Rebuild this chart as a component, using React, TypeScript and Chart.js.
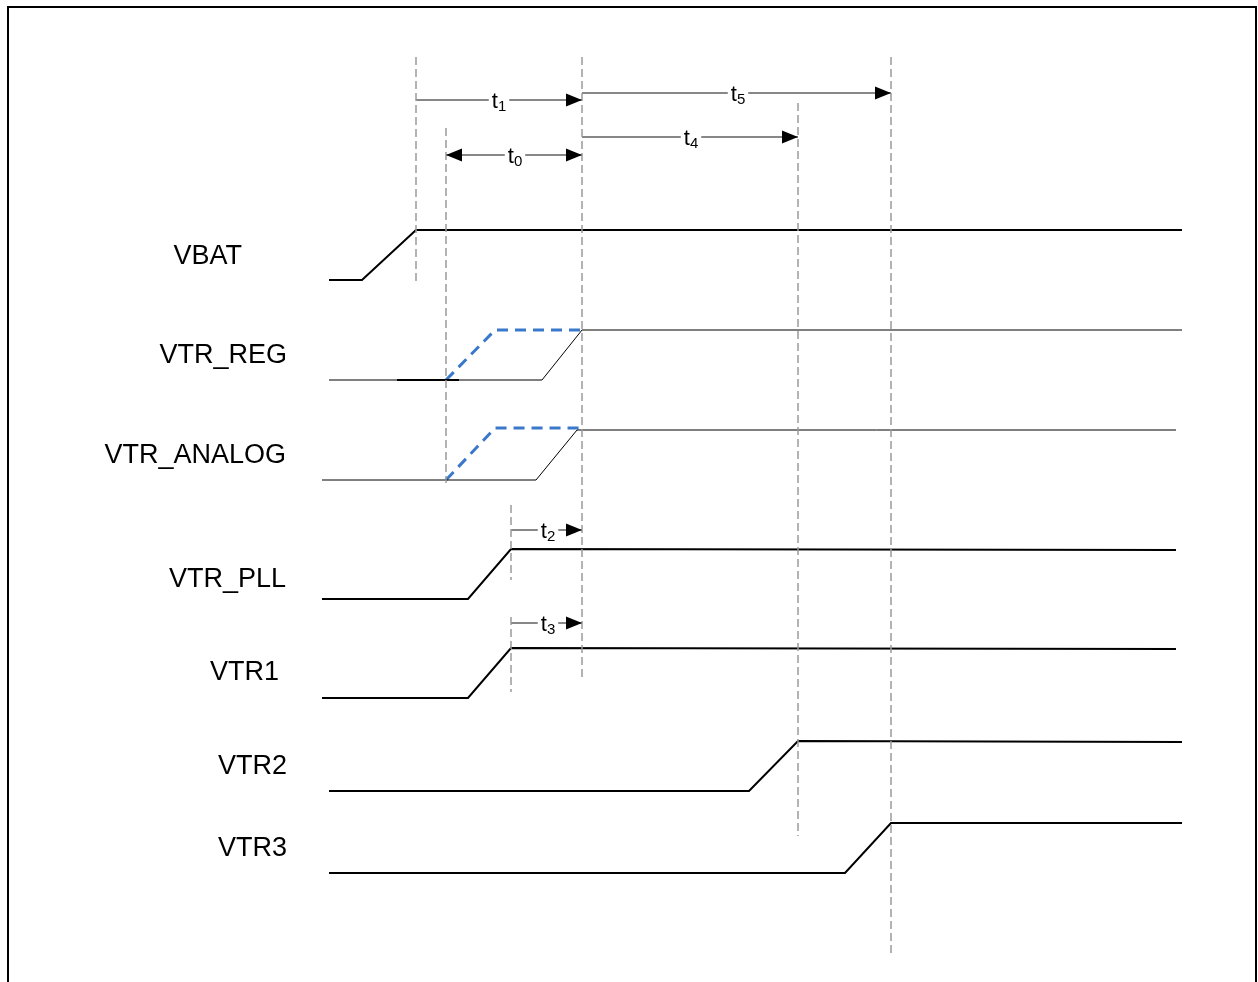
import React, { useEffect, useRef } from "react";
import { Chart, registerables } from "chart.js";

Chart.register(...registerables);

// Signal traces (time axis in diagram units, level axis in diagram units)
const signalNames = ["VBAT", "VTR_REG", "VTR_ANALOG", "VTR_PLL", "VTR1", "VTR2", "VTR3"];
const traceStart = [329, 329, 322, 322, 322, 329, 329];
const riseStart = [362, 542, 536, 468, 468, 749, 845];
const riseEnd = [416, 582, 577, 511, 511, 798, 891];
const traceEnd = [1182, 1182, 1176, 1176, 1176, 1182, 1182];
const lowLevel = [280, 380, 480, 599, 698, 791, 873];
const highLevel = [230, 330, 430, 549, 648, 741, 823];
const highLevelEnd = [230, 330, 430, 550, 649, 742, 823];
const labelLevel = [257, 356, 456, 580, 673, 767, 849];
const labelRight = [242, 287, 286, 286, 279, 287, 287];

// Early (alternative) ramps shown dashed in blue
const earlyStart = [446, 446];
const earlyRiseEnd = [495, 495];
const earlyEnd = [582, 582];
const earlyLow = [380, 480];
const earlyHigh = [330, 428];

// Dashed timing markers
const markerTime = [416, 446, 582, 511, 511, 798, 891];
const markerTop = [57, 128, 57, 505, 617, 103, 57];
const markerBottom = [284, 483, 680, 580, 692, 836, 953];

// Timing arrows
const arrowFrom = [416, 582, 582, 446, 511, 511];
const arrowTo = [582, 891, 798, 582, 582, 582];
const arrowLevel = [100, 93, 137, 155, 530, 623];
const arrowSub = ["1", "5", "4", "0", "2", "3"];
const arrowLabelAt = [499, 738, 691, 515, 548, 548];
const arrowDouble = [false, false, false, true, false, false];

const traceWidth = [2, 1, 1, 2, 2, 2, 2];

export default function App() {
  const ref = useRef<HTMLCanvasElement>(null);

  useEffect(() => {
    if (!ref.current) return;
    const datasets: any[] = [];

    markerTime.forEach((t, i) => {
      datasets.push({
        data: [
          { x: t, y: markerTop[i] },
          { x: t, y: markerBottom[i] },
        ],
        borderColor: "#9a9a9a",
        borderWidth: 1.5,
        borderDash: [8, 4],
        pointRadius: 0,
      });
    });

    signalNames.forEach((_, i) => {
      datasets.push({
        data: [
          { x: traceStart[i], y: lowLevel[i] },
          { x: riseStart[i], y: lowLevel[i] },
          { x: riseEnd[i], y: highLevel[i] },
          { x: traceEnd[i], y: highLevelEnd[i] },
        ],
        borderColor: "#000",
        borderWidth: traceWidth[i],
        pointRadius: 0,
      });
    });

    // thicker segment on VTR_REG low level
    datasets.push({
      data: [
        { x: 397, y: lowLevel[1] },
        { x: 459, y: lowLevel[1] },
      ],
      borderColor: "#000",
      borderWidth: 2,
      pointRadius: 0,
    });

    earlyStart.forEach((s, i) => {
      datasets.push({
        data: [
          { x: s, y: earlyLow[i] },
          { x: earlyRiseEnd[i], y: earlyHigh[i] },
          { x: earlyEnd[i], y: earlyHigh[i] },
        ],
        borderColor: "#3a78cc",
        borderWidth: 3,
        borderDash: [11, 7],
        pointRadius: 0,
      });
    });

    arrowFrom.forEach((f, i) => {
      datasets.push({
        data: [
          { x: f, y: arrowLevel[i] },
          { x: arrowTo[i], y: arrowLevel[i] },
        ],
        borderColor: "#111",
        borderWidth: 1,
        pointRadius: 0,
      });
    });

    const overlay = {
      id: "overlay",
      afterDatasetsDraw(chart: any) {
        const ctx = chart.ctx;
        const xs = chart.scales.x;
        const ys = chart.scales.y;
        ctx.save();
        const head = (tipX: number, y: number, dir: number) => {
          ctx.beginPath();
          ctx.moveTo(tipX, y);
          ctx.lineTo(tipX - dir * 16, y - 6.5);
          ctx.lineTo(tipX - dir * 16, y + 6.5);
          ctx.closePath();
          ctx.fillStyle = "#000";
          ctx.fill();
        };
        const bigFont = "22px 'Liberation Sans', Arial, sans-serif";
        const subFont = "15px 'Liberation Sans', Arial, sans-serif";
        arrowFrom.forEach((f, i) => {
          const y = ys.getPixelForValue(arrowLevel[i]);
          head(xs.getPixelForValue(arrowTo[i]), y, 1);
          if (arrowDouble[i]) head(xs.getPixelForValue(f), y, -1);
          const cx = xs.getPixelForValue(arrowLabelAt[i]);
          ctx.font = bigFont;
          const tw = ctx.measureText("t").width;
          ctx.font = subFont;
          const sw = ctx.measureText(arrowSub[i]).width;
          const total = tw + sw;
          const left = cx - total / 2;
          ctx.fillStyle = "#fff";
          ctx.fillRect(left - 3, y - 3, total + 6, 6);
          ctx.fillStyle = "#000";
          ctx.textBaseline = "alphabetic";
          ctx.textAlign = "left";
          ctx.font = bigFont;
          ctx.fillText("t", left, y + 7.5);
          ctx.font = subFont;
          ctx.fillText(arrowSub[i], left + tw, y + 10.5);
        });
        ctx.fillStyle = "#000";
        ctx.font = "27px 'Liberation Sans', Arial, sans-serif";
        ctx.textAlign = "right";
        ctx.textBaseline = "middle";
        signalNames.forEach((n, i) => {
          ctx.fillText(n, labelRight[i], ys.getPixelForValue(labelLevel[i]));
        });
        ctx.strokeStyle = "#000";
        ctx.lineWidth = 2;
        ctx.beginPath();
        ctx.moveTo(8, 990);
        ctx.lineTo(8, 7);
        ctx.lineTo(1256, 7);
        ctx.lineTo(1256, 990);
        ctx.stroke();
        ctx.restore();
      },
    };

    const chart = new Chart(ref.current, {
      type: "line",
      data: { datasets },
      options: {
        animation: false,
        responsive: false,
        devicePixelRatio: 1,
        layout: { padding: 0 },
        elements: { line: { tension: 0, borderCapStyle: "butt" } },
        scales: {
          x: { type: "linear", min: 0, max: 1258, display: false },
          y: { type: "linear", min: 0, max: 982, reverse: true, display: false },
        },
        plugins: { legend: { display: false }, tooltip: { enabled: false } },
      },
      plugins: [overlay],
    } as any);
    return () => chart.destroy();
  }, []);

  return (
    <div style={{ position: "absolute", left: 0, top: 0, width: 1258, height: 982, background: "#fff" }}>
      <canvas ref={ref} width={1258} height={982} />
    </div>
  );
}
